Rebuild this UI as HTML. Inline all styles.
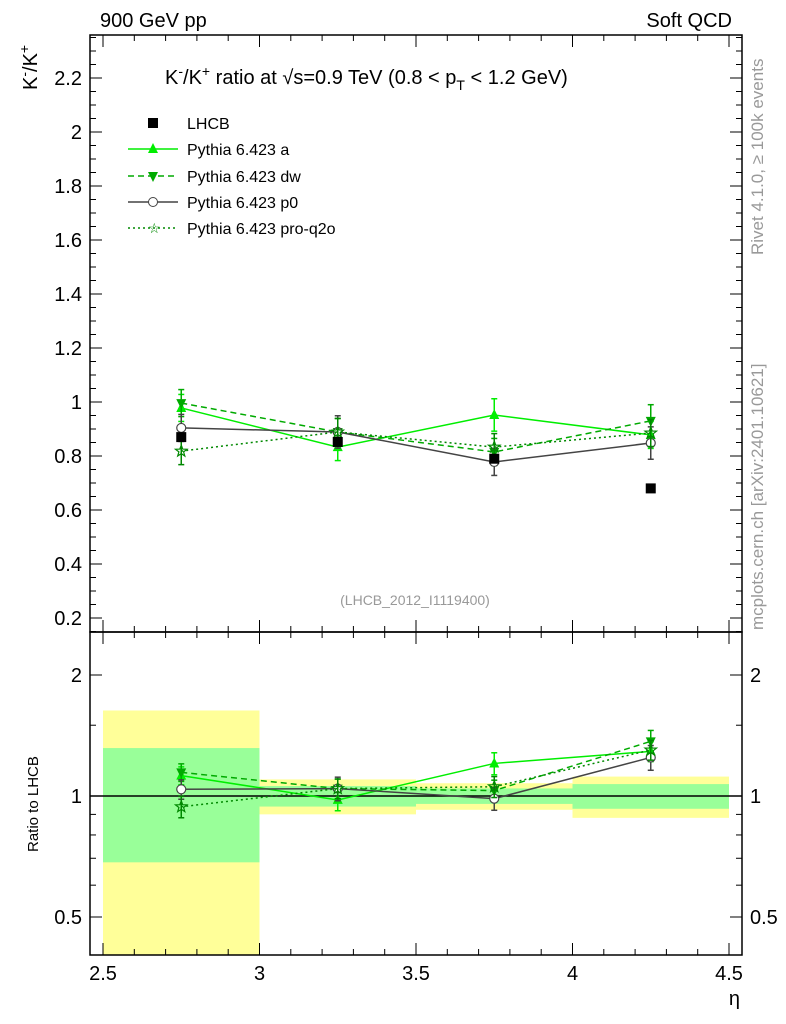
<!DOCTYPE html>
<html><head><meta charset="utf-8"><style>
body{margin:0;background:#fff;}
svg{display:block;font-family:"Liberation Sans",sans-serif;}
</style></head><body>
<svg id="c" width="786" height="1024" xmlns="http://www.w3.org/2000/svg"></svg>
<script>
const xCenters=[2.75,3.25,3.75,4.25];
const binEdges=[2.5,3,3.5,4,4.5];
const lhcb=[0.87,0.852,0.79,0.68];
const lhcbStat=[0.275,0.05,0.035,0.048];
const lhcbTot=[0.55,0.085,0.06,0.08];
const pyA=[0.978,0.833,0.952,0.878];
const pyAErr=[0.05,0.05,0.06,0.05];
const pyDW=[0.996,0.889,0.815,0.93];
const pyDWErr=[0.05,0.05,0.05,0.06];
const pyP0=[0.904,0.889,0.778,0.848];
const pyP0Err=[0.05,0.06,0.05,0.06];
const pyQ2O=[0.818,0.889,0.833,0.885];
const pyQ2OErr=[0.05,0.05,0.05,0.05];
const xTicks=[2.5,3,3.5,4,4.5];
const xTickLabels=["2.5","3","3.5","4","4.5"];
const yTicks=[0.2,0.4,0.6,0.8,1,1.2,1.4,1.6,1.8,2,2.2];
const yTickLabels=["0.2","0.4","0.6","0.8","1","1.2","1.4","1.6","1.8","2","2.2"];
const rTicks=[0.5,1,2];
const rTickLabels=["0.5","1","2"];

const svg=document.getElementById('c');
const NS="http://www.w3.org/2000/svg";
function mk(tag,at,parent){const e=document.createElementNS(NS,tag);for(const k in at)e.setAttribute(k,at[k]);(parent||svg).appendChild(e);return e;}
const L=90,R=742,T=35,M=632,B=955;
const X=v=>103+(v-2.5)*313;
const Y=v=>618-(v-0.2)*270;
const RY=v=>796-121*Math.log2(v);
const clipR=y=>Math.max(M,Math.min(B,y));

for(let i=0;i<4;i++){
  const x0=X(binEdges[i]),x1=X(binEdges[i+1]);
  const t=lhcbTot[i]/lhcb[i],s=lhcbStat[i]/lhcb[i];
  let y0=clipR(RY(1+t)),y1=clipR(RY(Math.max(1-t,0.01)));
  let r=mk('rect',{x:x0,y:y0,width:x1-x0,height:y1-y0,fill:'#ffff99'});
  
  
  y0=clipR(RY(1+s));y1=clipR(RY(1-s));
  r=mk('rect',{x:x0,y:y0,width:x1-x0,height:y1-y0,fill:'#99ff99'});
  
  
}
mk('line',{x1:L,x2:R,y1:RY(1),y2:RY(1),stroke:'#000','stroke-width':1.5});

const series=[
 {name:'pythia-a',v:pyA,e:pyAErr,c:'#00ee00',dash:'',m:'tri'},
 {name:'pythia-dw',v:pyDW,e:pyDWErr,c:'#00aa00',dash:'6,4',m:'tridown'},
 {name:'pythia-p0',v:pyP0,e:pyP0Err,c:'#444',dash:'',m:'circ'},
 {name:'pythia-pro-q2o',v:pyQ2O,e:pyQ2OErr,c:'#008800',dash:'2,3',m:'star'}
];
function marker(m,x,y,c,g){
  if(m==='tri')return mk('polygon',{points:`${x},${y-6} ${x-5},${y+4} ${x+5},${y+4}`,fill:c},g);
  if(m==='tridown')return mk('polygon',{points:`${x},${y+6} ${x-5},${y-4} ${x+5},${y-4}`,fill:c},g);
  if(m==='circ')return mk('circle',{cx:x,cy:y,r:4.5,fill:'#fff',stroke:c,'stroke-width':1.2},g);
  let p=[];for(let k=0;k<10;k++){const a=-Math.PI/2+k*Math.PI/5,rr=k%2?2.5:6;p.push((x+rr*Math.cos(a)).toFixed(1)+','+(y+rr*Math.sin(a)).toFixed(1));}
  return mk('polygon',{points:p.join(' '),fill:'none',stroke:c,'stroke-width':1.2},g);
}
function drawSeries(s,fy,ratio){
  const g=mk('g',{});
  
  
  const val=i=>ratio?s.v[i]/lhcb[i]:s.v[i];
  const err=i=>ratio?s.e[i]/lhcb[i]:s.e[i];
  const pts=xCenters.map((x,i)=>X(x)+','+fy(val(i))).join(' ');
  mk('polyline',{points:pts,fill:'none',stroke:s.c,'stroke-width':1.5,'stroke-dasharray':s.dash},g);
  xCenters.forEach((x,i)=>{
    const px=X(x),y0=fy(val(i)+err(i)),y1=fy(val(i)-err(i));
    mk('line',{x1:px,x2:px,y1:y0,y2:y1,stroke:s.c,'stroke-width':1.5},g);
    mk('line',{x1:px-3,x2:px+3,y1:y0,y2:y0,stroke:s.c,'stroke-width':1.5},g);
    mk('line',{x1:px-3,x2:px+3,y1:y1,y2:y1,stroke:s.c,'stroke-width':1.5},g);
    const mm=marker(s.m,px,fy(val(i)),s.c,g);
    
    
  });
}
series.forEach(s=>drawSeries(s,Y,false));
series.forEach(s=>drawSeries(s,RY,true));
xCenters.forEach((x,i)=>{
  const r=mk('rect',{x:X(x)-5,y:Y(lhcb[i])-5,width:10,height:10,fill:'#000'});
  
  
});

mk('rect',{x:L,y:T,width:R-L,height:M-T,fill:'none',stroke:'#000','stroke-width':1.5});
mk('rect',{x:L,y:M,width:R-L,height:B-M,fill:'none',stroke:'#000','stroke-width':1.5});
for(let v=2.5;v<=4.501;v+=0.1){
  const major=Math.abs(v*2-Math.round(v*2))<1e-6,len=major?12:6,px=X(v);
  [T,M].forEach(y=>mk('line',{x1:px,x2:px,y1:y,y2:y+len,stroke:'#000'}));
  [M,B].forEach(y=>mk('line',{x1:px,x2:px,y1:y,y2:y-len,stroke:'#000'}));
}
xTicks.forEach((v,i)=>{const t=mk('text',{x:X(v),y:980,'text-anchor':'middle','font-size':20});t.textContent=xTickLabels[i];});
for(let v=0.15;v<=2.35;v+=0.05){
  const major=Math.abs(v*5-Math.round(v*5))<1e-6,len=major?12:6,py=Y(v);
  if(py<T||py>M)continue;
  mk('line',{x1:L,x2:L+len,y1:py,y2:py,stroke:'#000'});
  mk('line',{x1:R,x2:R-len,y1:py,y2:py,stroke:'#000'});
}
yTicks.forEach((v,i)=>{const t=mk('text',{x:82,y:Y(v)+7,'text-anchor':'end','font-size':20});t.textContent=yTickLabels[i];});
[0.5,0.6,0.7,0.8,0.9,1,1.5,2].forEach(v=>{
  const major=rTicks.includes(v),len=major?12:6,py=RY(v);
  mk('line',{x1:L,x2:L+len,y1:py,y2:py,stroke:'#000'});
  mk('line',{x1:R,x2:R-len,y1:py,y2:py,stroke:'#000'});
});
rTicks.forEach((v,i)=>{
  let t=mk('text',{x:82,y:RY(v)+7,'text-anchor':'end','font-size':20});t.textContent=rTickLabels[i];
  t=mk('text',{x:750,y:RY(v)+7,'font-size':20});t.textContent=rTickLabels[i];
});
</script>
<svg width="786" height="1024" style="position:absolute;left:0;top:0" font-family="Liberation Sans, sans-serif">
<text x="100" y="27" font-size="20">900 GeV pp</text>
<text x="732" y="27" font-size="20" text-anchor="end">Soft QCD</text>
<text x="165" y="84" font-size="20">K<tspan dy="-8" font-size="14">-</tspan><tspan dy="8">/K</tspan><tspan dy="-8" font-size="14">+</tspan><tspan dy="8"> ratio at √s=0.9 TeV (0.8 &lt; p</tspan><tspan dy="6" font-size="14">T</tspan><tspan dy="-6"> &lt; 1.2 GeV)</tspan></text>
<text transform="translate(37,90) rotate(-90)" font-size="20">K<tspan dy="-8" font-size="14">-</tspan><tspan dy="8">/K</tspan><tspan dy="-8" font-size="14">+</tspan></text>
<text transform="translate(38,852) rotate(-90)" font-size="15">Ratio to LHCB</text>
<text x="740" y="1005" font-size="20" text-anchor="end">η</text>
<text x="415" y="605" font-size="14" fill="#999" text-anchor="middle">(LHCB_2012_I1119400)</text>
<text transform="translate(763,255) rotate(-90)" font-size="17" fill="#999">Rivet 4.1.0, ≥ 100k events</text>
<text transform="translate(763,630) rotate(-90)" font-size="17" fill="#999">mcplots.cern.ch [arXiv:2401.10621]</text>
<g font-size="16">
<rect x="148" y="118" width="10" height="10" fill="#000"/><text x="187" y="129">LHCB</text>
<line x1="128" x2="178" y1="149" y2="149" stroke="#00ee00" stroke-width="1.5"/><polygon points="153,143 148,153 158,153" fill="#00ee00"/><text x="187" y="155">Pythia 6.423 a</text>
<line x1="128" x2="178" y1="176" y2="176" stroke="#00aa00" stroke-width="1.5" stroke-dasharray="6,4"/><polygon points="153,182 148,172 158,172" fill="#00aa00"/><text x="187" y="182">Pythia 6.423 dw</text>
<line x1="128" x2="178" y1="202" y2="202" stroke="#444" stroke-width="1.5"/><circle cx="153" cy="202" r="4.5" fill="#fff" stroke="#444"/><text x="187" y="208">Pythia 6.423 p0</text>
<line x1="128" x2="178" y1="228" y2="228" stroke="#008800" stroke-width="1.5" stroke-dasharray="2,3"/><text x="148" y="233" font-size="14" fill="#008800">☆</text><text x="187" y="234">Pythia 6.423 pro-q2o</text>
</g>
</svg>
</body></html>
